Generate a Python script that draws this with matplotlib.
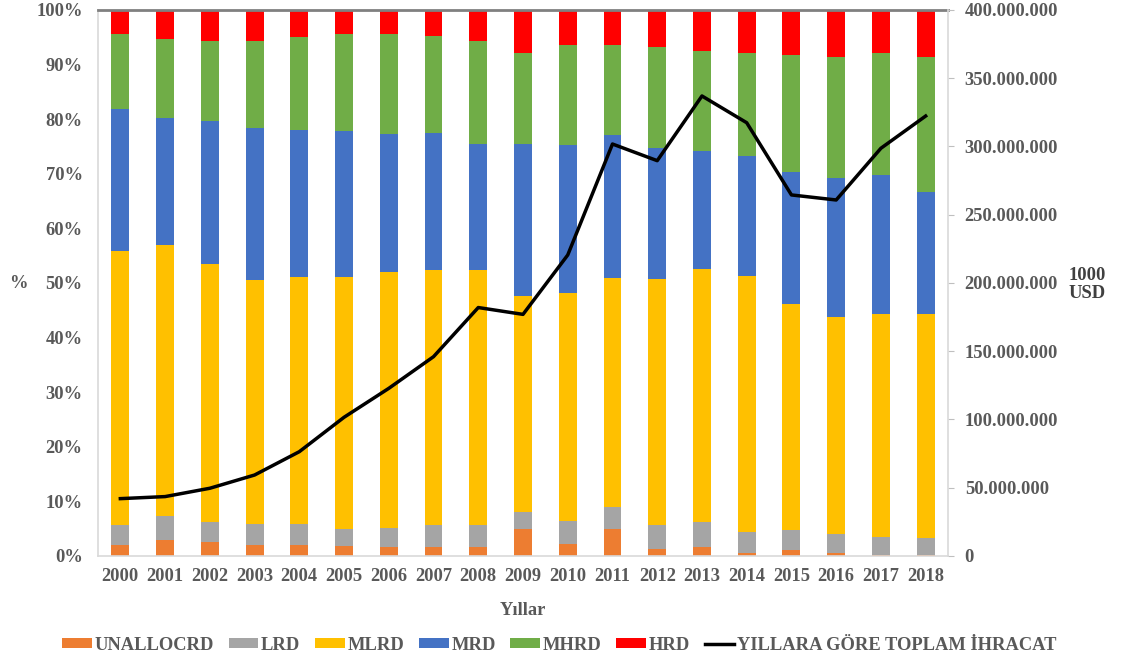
import numpy as np
import matplotlib
matplotlib.use('Agg')
import matplotlib.pyplot as plt
from matplotlib.ticker import FuncFormatter

plt.rcParams['font.family'] = ['Liberation Serif', 'DejaVu Serif']
plt.rcParams['font.weight'] = 'bold'
plt.rcParams['text.color'] = '#595959'
plt.rcParams['xtick.color'] = '#595959'
plt.rcParams['ytick.color'] = '#595959'
plt.rcParams['axes.labelcolor'] = '#595959'

years = [str(y) for y in range(2000, 2019)]

# cumulative tops (%)
cum_unalloc = [2.1, 3.0, 2.5, 2.1, 2.0, 1.8, 1.6, 1.7, 1.6, 4.9, 2.2, 4.9, 1.2, 1.6, 0.5, 1.1, 0.6, 0.2, 0.2]
cum_lrd = [5.6, 7.3, 6.3, 5.9, 5.9, 5.0, 5.1, 5.7, 5.6, 8.1, 6.4, 8.9, 5.7, 6.2, 4.3, 4.8, 4.0, 3.5, 3.3]
cum_mlrd = [55.9, 57.0, 53.4, 50.5, 51.1, 51.1, 52.0, 52.4, 52.3, 47.6, 48.1, 51.0, 50.8, 52.5, 51.2, 46.1, 43.8, 44.3, 44.3]
cum_mrd = [81.9, 80.2, 79.7, 78.3, 78.1, 77.9, 77.2, 77.5, 75.5, 75.5, 75.3, 77.1, 74.7, 74.2, 73.3, 70.4, 69.3, 69.8, 66.6]
cum_mhrd = [95.6, 94.6, 94.4, 94.3, 95.0, 95.6, 95.6, 95.2, 94.4, 92.1, 93.6, 93.5, 93.2, 92.5, 92.2, 91.7, 91.3, 92.2, 91.4]

# toplam ihracat (1000 USD)
toplam = [42.0e6, 43.5e6, 49.6e6, 59.3e6, 76.4e6, 101.6e6, 122.8e6, 146.0e6, 182.0e6, 177.0e6,
          220.5e6, 301.8e6, 289.6e6, 337.0e6, 317.4e6, 264.5e6, 260.8e6, 298.7e6, 322.3e6]

labels = ['UNALLOCRD', 'LRD', 'MLRD', 'MRD', 'MHRD', 'HRD']
colors = ['#ED7D31', '#A5A5A5', '#FFC000', '#4472C4', '#70AD47', '#FF0000']

cum = np.array([np.zeros(19), cum_unalloc, cum_lrd, cum_mlrd, cum_mrd, cum_mhrd, np.full(19, 100.0)])
shares = np.diff(cum, axis=0) / 100.0

fig = plt.figure(figsize=(11.21, 6.61), dpi=100)
ax = fig.add_axes([0.0874, 0.1589, 0.7583, 0.826])
x = np.arange(len(years))

for i in range(6):
    ax.bar(x, shares[i], bottom=cum[i] / 100.0, width=0.4, color=colors[i], label=labels[i])

ax.set_xlim(-0.5, 18.5)
ax.set_ylim(0, 1)
ax.set_yticks(np.arange(0, 1.01, 0.1))
ax.yaxis.set_major_formatter(FuncFormatter(lambda v, p: f'{v * 100:.0f}%'))
ax.set_xticks(x)
ax.set_xticklabels(years)
ax.tick_params(axis='x', labelsize=13.3, length=0, pad=9)
ax.tick_params(axis='y', labelsize=13.3, length=0, pad=11)
ax.set_xlabel('Yıllar', fontsize=13.3, fontweight='bold', labelpad=12)
fig.text(0.016, 1 - 284 / 661, '%', fontsize=13.3, fontweight='bold', ha='center', va='center')

for s in ['left', 'bottom']:
    ax.spines[s].set_color('#d9d9d9')
    ax.spines[s].set_linewidth(1.2)
ax.spines['top'].set_color('#808080')
ax.spines['top'].set_linewidth(2)
ax.spines['right'].set_visible(False)

ax2 = ax.twinx()
ax2.plot(x, toplam, color='black', linewidth=2.5, label='YILLARA GÖRE TOPLAM İHRACAT')
ax2.set_ylim(0, 400e6)
ax2.set_yticks(np.arange(0, 400e6 + 1, 50e6))
ax2.yaxis.set_major_formatter(FuncFormatter(lambda v, p: f'{int(v):,}'.replace(',', '.')))
ax2.tick_params(axis='y', labelsize=13.3, length=4, color='#bfbfbf', pad=8)
for s in ['left', 'bottom', 'top']:
    ax2.spines[s].set_visible(False)
ax2.spines['right'].set_color('#d9d9d9')
ax2.spines['right'].set_linewidth(1.2)
fig.text(0.970, 0.570, '1000\nUSD', fontsize=13.3, fontweight='bold', ha='center', va='center',
         color='#404040', linespacing=1.1)

h1, l1 = ax.get_legend_handles_labels()
h2, l2 = ax2.get_legend_handles_labels()
fig.legend(h1 + h2, l1 + l2, loc='center', bbox_to_anchor=(0.499, 0.024), ncol=7,
           frameon=False, fontsize=13.3, handlelength=1.6, handleheight=0.5, columnspacing=0.8,
           handletextpad=0.15, borderaxespad=0, borderpad=0)

fig.savefig('out.png', dpi=100)
